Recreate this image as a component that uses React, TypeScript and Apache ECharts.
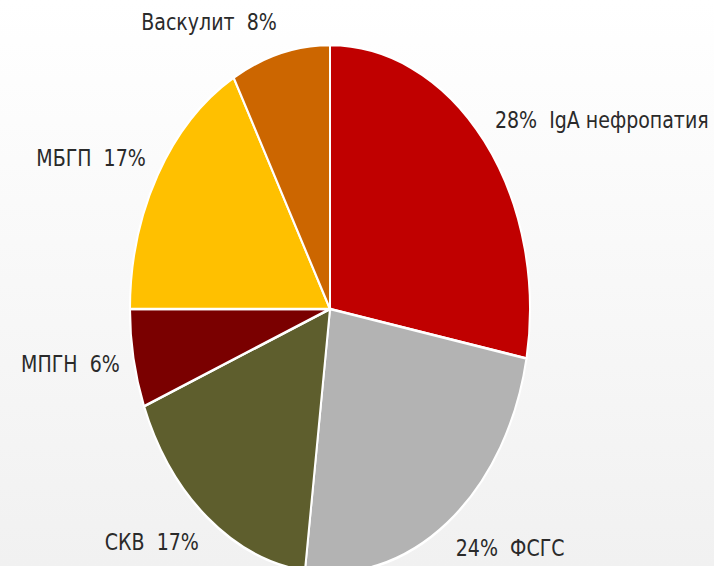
import React, { useEffect, useRef } from "react";
import * as echarts from "echarts";

const categories = ["IgA нефропатия", "ФСГС", "СКВ", "МПГН", "МБГП", "Васкулит"];
const values = [28, 24, 17, 6, 17, 8];
const colors = ["#C00000", "#B3B3B3", "#5E5E2D", "#7A0000", "#FFC000", "#CC6600"];

export default function App() {
  const ref = useRef<HTMLDivElement>(null);
  useEffect(() => {
    document.body.style.margin = "0";
    const chart = echarts.init(ref.current!, null, { renderer: "svg" });
    const total = values.reduce((a, b) => a + b, 0);
    const starts: number[] = [];
    let acc = 0;
    values.forEach((v) => {
      starts.push(acc);
      acc += v;
    });
    const cx = 330;
    const cy = 309;
    const r = 200;
    const sy = 1.32;
    const data = values.map((v, i) => [v, starts[i]]);
    chart.setOption({
      animation: false,
      backgroundColor: {
        type: "linear",
        x: 0,
        y: 0,
        x2: 0,
        y2: 1,
        colorStops: [
          { offset: 0, color: "#ffffff" },
          { offset: 1, color: "#f1f1f1" },
        ],
      },
      series: [
        {
          type: "custom",
          coordinateSystem: "none",
          data,
          renderItem: (params: any, api: any) => {
            const i = params.dataIndex;
            const v = api.value(0);
            const s = api.value(1);
            const a0 = -Math.PI / 2 + (2 * Math.PI * s) / total;
            const a1 = a0 + (2 * Math.PI * v) / total;
            const mid = (a0 + a1) / 2;
            const fx = 1.07;
            const fy = 1.12;
            const lx = cx + Math.cos(mid) * r * fx;
            const ly = cy + Math.sin(mid) * r * sy * fy;
            const left = Math.cos(mid) < 0;
            const text = left ? `${categories[i]}  ${v}%` : `${v}%  ${categories[i]}`;
            return {
              type: "group",
              children: [
                {
                  type: "sector",
                  x: cx,
                  y: cy,
                  scaleY: sy,
                  shape: { cx: 0, cy: 0, r0: 0, r, startAngle: a0, endAngle: a1, clockwise: true },
                  style: { fill: colors[i], stroke: "#ffffff", lineWidth: 2 },
                },
                {
                  type: "text",
                  x: lx,
                  y: ly,
                  scaleY: 1.2,
                  style: {
                    text,
                    fill: "#2a2a2a",
                    font: "19px 'DejaVu Sans'",
                    align: left ? "right" : "left",
                    verticalAlign: "middle",
                  },
                },
              ],
            };
          },
        },
      ],
    });
    return () => chart.dispose();
  }, []);
  return <div ref={ref} style={{ width: 714, height: 566 }} />;
}
